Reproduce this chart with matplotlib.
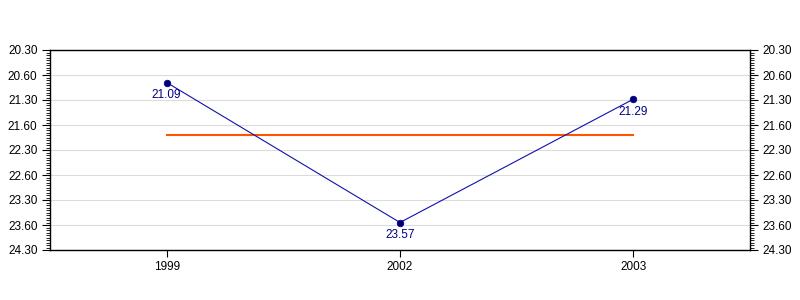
import matplotlib
matplotlib.use("Agg")
import matplotlib.pyplot as plt
import numpy as np
from matplotlib.ticker import MultipleLocator

categories = ["1999", "2002", "2003"]
time_labels = ["21.09", "23.57", "21.29"]  # minutes.seconds
tick_values = [20.5, 21.0, 21.5, 22.0, 22.5, 23.0, 23.5, 24.0, 24.5]
tick_labels = ["20.30", "20.60", "21.30", "21.60", "22.30", "22.60", "23.30", "23.60", "24.30"]

def to_minutes(s):
    m, sec = s.split(".")
    return int(m) + int(sec) / 60.0

values = np.array([to_minutes(s) for s in time_labels])
avg = values.mean()
x = np.arange(len(categories))

fig = plt.figure(figsize=(8, 3), dpi=100)
ax = fig.add_axes([0.0625, 1 - 250 / 300, 0.875, 200 / 300])

ax.set_xlim(-0.5, len(categories) - 0.5)
ax.set_ylim(24.5, 20.5)

for t in tick_values:
    ax.axhline(t, color="#dcdcdc", lw=0.8, zorder=0)

ax.plot([x[0], x[-1]], [avg, avg], color="#ff5500", lw=1.5, zorder=2)
ax.plot(x, values, color="#1010b0", lw=0.8, zorder=3)
ax.scatter(x, values, s=22, color="#000066", edgecolors="#0000aa", linewidths=0.6, zorder=4)
for xi, v, lab in zip(x, values, time_labels):
    ax.annotate(lab, (xi, v), xytext=(0, -5), textcoords="offset points",
                ha="center", va="top", fontsize=8.5, color="#000080",
                family="Liberation Sans")

ax.set_xticks(x)
ax.set_xticklabels(categories, fontsize=8.5, family="Liberation Sans")
ax.set_yticks(tick_values)
ax.set_yticklabels(tick_labels, fontsize=8.5, family="Liberation Sans")
ax.yaxis.set_minor_locator(MultipleLocator(0.05))
ax.tick_params(axis="y", which="major", length=6, width=0.8, direction="out",
               left=True, right=True, labelleft=True, labelright=True, pad=3)
ax.tick_params(axis="y", which="minor", length=3, width=0.6, direction="out",
               left=True, right=True)
ax.tick_params(axis="x", which="major", length=5, width=0.8, direction="out", pad=3)
for sp in ax.spines.values():
    sp.set_linewidth(1.0)

fig.savefig("out.png", dpi=100)
